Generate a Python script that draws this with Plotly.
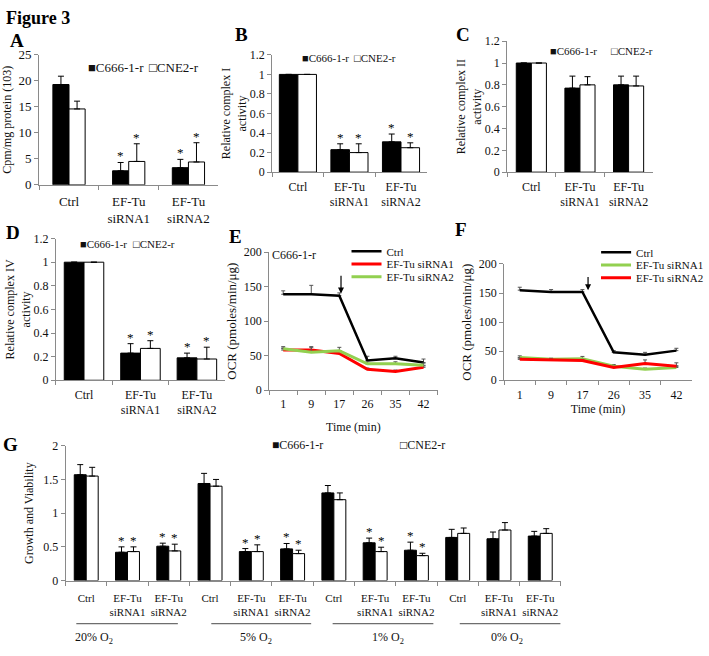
import plotly.graph_objects as go

W, H = 709, 656
FONT = "Liberation Serif"

# ---------------- data ----------------
cats3 = ["Ctrl", "EF-Tu<br>siRNA1", "EF-Tu<br>siRNA2"]
series_names = ["C666-1-r", "CNE2-r"]

a_c666 = [19.3, 2.7, 3.3]
a_c666_err = [1.6, 1.6, 1.6]
a_cne2 = [14.6, 4.5, 4.4]
a_cne2_err = [1.5, 3.4, 3.7]

b_c666 = [1.0, 0.23, 0.31]
b_c666_err = [0, 0.06, 0.08]
b_cne2 = [1.0, 0.20, 0.25]
b_cne2_err = [0, 0.09, 0.05]

c_c666 = [1.0, 0.77, 0.80]
c_c666_err = [0, 0.11, 0.08]
c_cne2 = [1.0, 0.80, 0.79]
c_cne2_err = [0, 0.075, 0.09]

d_c666 = [1.0, 0.23, 0.19]
d_c666_err = [0, 0.08, 0.04]
d_cne2 = [1.0, 0.27, 0.18]
d_cne2_err = [0, 0.065, 0.10]

sig3 = [False, True, True]
sig3_none = [False, False, False]

time_labels = ["1", "9", "17", "26", "35", "42"]
line_names = ["Ctrl", "EF-Tu siRNA1", "EF-Tu siRNA2"]
e_ctrl = [139, 139, 137, 43, 46, 40]
e_ctrl_err = [5, 13, 4, 6, 3, 5]
e_si1 = [58, 58, 53, 30, 27, 33]
e_si1_err = [3, 4, 4, 2, 2, 2]
e_si2 = [60, 55, 57, 38, 38, 36]
e_si2_err = [3, 8, 5, 3, 3, 3]

f_ctrl = [155, 152, 152, 48, 44, 51]
f_ctrl_err = [5, 4, 4, 3, 4, 4]
f_si1 = [39, 36, 37, 24, 19, 22]
f_si1_err = [3, 2, 4, 3, 2, 3]
f_si2 = [36, 35, 34, 22, 29, 24]
f_si2_err = [2, 2, 2, 2, 6, 6]

g_groups = ["20% O<sub>2</sub>", "5% O<sub>2</sub>", "1% O<sub>2</sub>", "0% O<sub>2</sub>"]
g_conditions = ["Ctrl", "EF-Tu<br>siRNA1", "EF-Tu<br>siRNA2"]
g_c666 = [1.57, 0.42, 0.51, 1.44, 0.43, 0.47, 1.30, 0.56, 0.45, 0.64, 0.62, 0.66]
g_c666_err = [0.15, 0.08, 0.045, 0.15, 0.045, 0.08, 0.11, 0.07, 0.12, 0.12, 0.10, 0.07]
g_cne2 = [1.55, 0.43, 0.44, 1.40, 0.43, 0.40, 1.20, 0.43, 0.37, 0.70, 0.75, 0.70]
g_cne2_err = [0.13, 0.07, 0.10, 0.10, 0.10, 0.05, 0.10, 0.065, 0.035, 0.08, 0.11, 0.07]
g_sig = [False, True, True] * 3 + [False] * 3

# ---------------- layout helpers ----------------
AX_COL = "#8a8a8a"
TXT = "#111111"


def dx(l, r):
    return [l / W, r / W]


def dy(t, b):
    return [1 - b / H, 1 - t / H]


fig = go.Figure()
annotations = []
shapes = []
legends = {}


def axis_base(size):
    return dict(showline=True, linecolor=AX_COL, linewidth=1, ticks="outside",
                tickcolor=AX_COL, ticklen=4, showgrid=False, zeroline=False,
                tickfont=dict(family=FONT, size=size, color=TXT))


def bar_panel(k, cats, s1, e1, s2, e2, sig, w, xdom, ydom, yrange, dtick,
              ytitle, fs, tfs, standoff, lblstand, xfs=None):
    xa = "x" if k == 1 else f"x{k}"
    ya = "y" if k == 1 else f"y{k}"
    n = len(cats)
    for vals, errs, color, off in [(s1, e1, "#000000", -w), (s2, e2, "#ffffff", 0)]:
        fig.add_trace(go.Bar(
            x=cats, y=vals, width=w, offset=off, xaxis=xa, yaxis=ya,
            marker=dict(color=color, line=dict(color="#000000", width=1)),
            error_y=dict(type="data", array=errs, arrayminus=[0] * n, symmetric=False,
                         color="#000000", thickness=1, width=3),
            showlegend=False, hoverinfo="y"))
        for i in range(n):
            if sig[i]:
                annotations.append(dict(
                    x=i + off + w / 2, y=vals[i] + errs[i], xref=xa, yref=ya,
                    text="*", showarrow=False, xanchor="center", yanchor="bottom", yshift=-3,
                    font=dict(family=FONT, size=13, color="#000000")))
    xl = "xaxis" if k == 1 else f"xaxis{k}"
    yl = "yaxis" if k == 1 else f"yaxis{k}"
    xax = axis_base(xfs or fs)
    xax.update(domain=xdom, anchor=ya, type="category", tickson="boundaries",
               range=[-0.5, n - 0.5], ticklabelstandoff=lblstand, tickangle=0)
    yax = axis_base(fs)
    yax.update(domain=ydom, anchor=xa, range=yrange, dtick=dtick,
               title=dict(text=ytitle, font=dict(family=FONT, size=tfs, color=TXT),
                          standoff=standoff))
    fig.update_layout(**{xl: xax, yl: yax})


# Panel A
bar_panel(1, cats3, a_c666, a_c666_err, a_cne2, a_cne2_err, sig3, 0.27,
          dx(40, 223), dy(49, 182), [0, 25], 5, "Cpm/mg protein (103)", 13, 12, 6, 5)
# Panel B
bar_panel(2, cats3, b_c666, b_c666_err, b_cne2, b_cne2_err, sig3, 0.36,
          dx(278, 436), dy(49, 169), [0, 1.2], 0.2, "Relative complex I<br>activity", 12, 12, 0, 3)
# Panel C
bar_panel(3, cats3, c_c666, c_c666_err, c_cne2, c_cne2_err, sig3_none, 0.31,
          dx(518, 667), dy(35, 169), [0, 1.2], 0.2, "Relative complex II<br>activity", 12, 12, 0, 3)
# Panel D
bar_panel(4, cats3, d_c666, d_c666_err, d_cne2, d_cne2_err, sig3, 0.35,
          dx(57, 230), dy(237, 382), [0, 1.2], 0.2, "Relative complex IV<br>activity", 12, 12, 0, 3)

# Panel G (grouped categories)
g_ids = [f"{g}|{c}" for g in g_groups for c in g_conditions]
g_ticktext = [c for g in g_groups for c in g_conditions]
bar_panel(7, g_ids, g_c666, g_c666_err, g_cne2, g_cne2_err, g_sig, 0.29,
          dx(67, 573), dy(449, 587), [0, 2], 0.5, "Growth and Viability", 12, 12, 6, 7, xfs=11)
fig.update_layout(xaxis7=dict(tickmode="array", tickvals=g_ids, ticktext=g_ticktext))

# group underlines and labels for G (category-index units)
g_line_spans = [(-0.24, 2.22), (3.03, 5.45), (5.97, 8.41), (9.05, 11.49)]
g_label_pos = [0.18, 4.12, 7.3, 10.19]
for (x0, x1), xl, lab in zip(g_line_spans, g_label_pos, g_groups):
    shapes.append(dict(type="line", xref="x7", yref="paper", x0=x0, x1=x1,
                       y0=1 - 631 / H, y1=1 - 631 / H, line=dict(color="#6e6e6e", width=1.2)))
    annotations.append(dict(x=xl, y=1 - 646 / H, xref="x7", yref="paper", text=lab,
                            showarrow=False, xanchor="center", yanchor="middle",
                            font=dict(family=FONT, size=12, color=TXT)))


# Line panels E, F
def line_panel(k, ctrl, ctrl_e, s1, s1_e, s2, s2_e, c1, c2, leg_names, leg_x, leg_rows,
               xdom, ydom, ytitle, xstand, label, label_xy, arrow):
    xa, ya = f"x{k}", f"y{k}"
    n = len(time_labels)
    series = [(ctrl, ctrl_e, "#000000", 2.5), (s1, s1_e, c1, 3), (s2, s2_e, c2, 3)]
    for (vals, errs, col, wdt), name, lg, row in zip(series, line_names, leg_names, leg_rows):
        fig.add_trace(go.Scatter(
            x=time_labels, y=vals, mode="lines", name=name, xaxis=xa, yaxis=ya,
            line=dict(color=col, width=wdt), legend=lg,
            error_y=dict(type="data", array=errs, arrayminus=[0] * n, symmetric=False,
                         color="#555555", thickness=1, width=2)))
        legends[lg] = dict(x=leg_x / W, y=1 - row / H, xanchor="left", yanchor="middle",
                           bgcolor="rgba(0,0,0,0)", borderwidth=0,
                           font=dict(family=FONT, size=11, color=TXT),
                           itemwidth=30, itemclick=False, itemdoubleclick=False)
    xax = axis_base(12)
    xax.update(domain=xdom, anchor=ya, type="category", tickson="boundaries",
               range=[-0.5, n - 0.5], ticklabelstandoff=3, tickangle=0,
               title=dict(text="Time (min)", font=dict(family=FONT, size=12, color=TXT),
                          standoff=xstand))
    yax = axis_base(12)
    yax.update(domain=ydom, anchor=xa, range=[0, 200], dtick=50,
               title=dict(text=ytitle, font=dict(family=FONT, size=13, color=TXT), standoff=4))
    fig.update_layout(**{f"xaxis{k}": xax, f"yaxis{k}": yax})
    annotations.append(dict(x=label_xy[0], y=label_xy[1], xref=xa, yref=ya, text=label,
                            showarrow=False, xanchor="center", yanchor="middle",
                            font=dict(family=FONT, size=12, color=TXT)))
    ax_x, tip_y, tail_y = arrow
    annotations.append(dict(x=ax_x, y=tip_y, ax=ax_x, ay=tail_y, xref=xa, yref=ya,
                            axref=xa, ayref=ya, text="", showarrow=True, arrowhead=2,
                            arrowsize=1, arrowwidth=1.2, arrowcolor="#000000"))


line_panel(5, e_ctrl, e_ctrl_err, e_si1, e_si1_err, e_si2, e_si2_err,
           "#ff0000", "#92d050", ["legend", "legend2", "legend3"], 354, [250, 263, 276],
           dx(275, 447), dy(251, 392), "OCR (pmoles/min/μg)", 12, "C666-1-r", (0.4, 196),
           (2.06, 140, 168))
line_panel(6, f_ctrl, f_ctrl_err, f_si1, f_si1_err, f_si2, f_si2_err,
           "#92d050", "#ff0000", ["legend4", "legend5", "legend6"], 609, [251, 264, 277],
           dx(515, 707), dy(263, 382), "OCR (pmoles/min/μg)", 2, "CNE2-r", (0.69, 213),
           (2.18, 155, 180))
fig.update_layout(**legends)

# Bar-panel legends (Excel-style square markers)
bar_legends = [  # (x_left_px, y_px, font size, x gap px)
    (88, 62, 13, 62),
    (306, 52, 11, 54),
    (560, 45, 11, 62),
    (80, 243, 11, 54),
    (276, 448, 12, 131),
]
for (xl, yp, fs, gap) in bar_legends:
    for j, (sym, name) in enumerate(zip(["■", "□"], series_names)):
        annotations.append(dict(x=(xl + j * gap) / W, y=1 - yp / H, xref="paper", yref="paper",
                                text=sym + name, showarrow=False, xanchor="left",
                                yanchor="middle",
                                font=dict(family=FONT, size=fs, color=TXT)))

# Figure title and panel letters
annotations.append(dict(x=4 / W, y=1 - 11 / H, xref="paper", yref="paper", text="<b>Figure 3</b>",
                        showarrow=False, xanchor="left", yanchor="middle",
                        font=dict(family=FONT, size=18, color="#000")))
for letter, (px, py) in zip("ABCDEFG", [(17, 34), (247, 28), (473, 28), (13, 231),
                                        (241, 235), (471, 228), (11, 448)]):
    annotations.append(dict(x=px / W, y=1 - py / H, xref="paper", yref="paper",
                            text=f"<b>{letter}</b>", showarrow=False,
                            xanchor="center", yanchor="middle",
                            font=dict(family=FONT, size=19, color="#000")))

fig.update_layout(
    width=W, height=H, margin=dict(l=0, r=0, t=0, b=0),
    paper_bgcolor="#ffffff", plot_bgcolor="rgba(0,0,0,0)",
    font=dict(family=FONT, color=TXT),
    annotations=annotations, shapes=shapes, showlegend=True,
)

fig.write_html("out.html")
